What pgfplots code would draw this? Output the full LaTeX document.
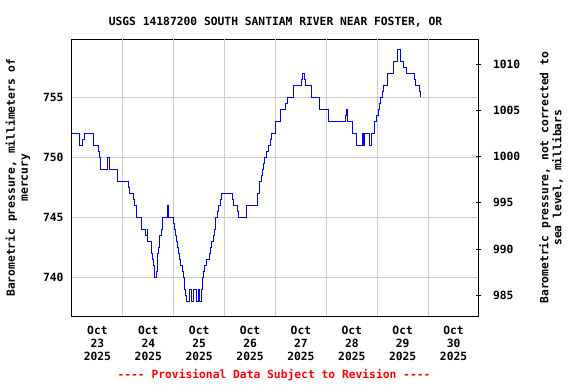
\documentclass[border=0pt]{standalone}
\usepackage{fontspec}
\setmonofont{DejaVu Sans Mono}[BoldFont={DejaVu Sans Mono Bold}]
\usepackage{pgfplots}
\usepackage{pgfplotstable}
\pgfplotsset{compat=1.18}
\newcommand{\uf}{\ttfamily\bfseries\fontsize{11.3}{13}\selectfont}
\pgfplotstableread{
x y
0 752
0.157 751
0.210 751.5
0.236 752
0.418 751
0.530 750.5
0.550 750
0.570 749
0.694 750
0.733 749
0.898 748
1.114 747.5
1.139 747
1.204 746.5
1.224 746
1.271 745
1.369 744
1.454 743.5
1.479 744
1.493 743
1.558 742
1.585 741.5
1.597 741
1.617 740
1.664 740.5
1.684 742
1.703 742.5
1.715 743
1.729 743.5
1.754 744
1.774 745
1.872 745.5
1.886 746
1.900 745
1.990 744.5
2.010 744
2.029 743.5
2.049 743
2.069 742.5
2.088 742
2.108 741.5
2.141 741
2.167 740.5
2.187 740
2.206 739
2.226 738.5
2.253 738
2.318 739
2.352 738
2.397 739
2.456 738
2.481 739
2.509 738
2.548 739
2.574 740
2.593 740.5
2.613 741
2.652 741.5
2.697 742
2.725 742.5
2.750 743
2.776 743.5
2.804 744
2.829 745
2.862 745.5
2.888 746
2.914 746.5
2.941 747
3.149 746.5
3.169 746
3.248 745.5
3.267 745
3.432 746
3.640 747
3.694 748
3.719 748.5
3.739 749
3.772 749.5
3.792 750
3.825 750.5
3.870 751
3.896 751.5
3.916 752
4.008 753
4.100 754
4.204 754.5
4.230 755
4.348 756
4.519 756.5
4.532 757
4.572 756.5
4.583 756
4.709 755
4.859 754
5.035 753
5.383 753.5
5.397 754
5.417 753
5.515 752
5.593 751
5.703 752
5.737 751
5.756 752
5.855 751
5.880 752
5.953 753
5.986 753.5
6.018 754
6.051 754.5
6.071 755
6.096 755.5
6.116 756
6.194 757
6.312 758
6.391 759
6.464 758
6.523 757.5
6.576 757
6.725 756.5
6.752 756
6.823 755.5
6.851 755
}\baro
\begin{document}
\begin{tikzpicture}[x=1pt,y=1pt]
\useasboundingbox (0,0) rectangle (576,384);
\begin{axis}[at={(72pt,68pt)}, anchor=south west, scale only axis,
  width=407pt, height=276.7pt,
  xmin=0, xmax=8, ymin=736.78, ymax=759.83,
  axis line style={line width=1pt},
  xtick={0.5,1.5,...,7.5},
  xticklabels={{Oct\\23\\2025},{Oct\\24\\2025},{Oct\\25\\2025},{Oct\\26\\2025},{Oct\\27\\2025},{Oct\\28\\2025},{Oct\\29\\2025},{Oct\\30\\2025}},
  xticklabel style={align=center, font=\uf, yshift=-7pt},
  extra x ticks={1,2,...,7},
  extra x tick labels={},
  extra x tick style={grid=major, major grid style={draw=black!20, line width=1pt}},
  ytick={740,745,750,755},
  ymajorgrids,
  grid style={draw=black!20, line width=1pt},
  major tick length=0pt,
  yticklabel style={font=\uf, xshift=-5pt},
  /pgf/number format/assume math mode=true,
  ylabel={Barometric pressure, millimeters of\\mercury},
  ylabel style={align=center, font=\uf, yshift=6pt},
  clip=true,
]
\addplot[const plot, blue, line width=1pt] table[x=x,y=y] {\baro};
\end{axis}
\begin{axis}[at={(72pt,68pt)}, anchor=south west, scale only axis,
  width=407pt, height=276.7pt,
  xmin=0, xmax=8, ymin=982.76, ymax=1012.67,
  axis x line=none, axis y line*=right,
  axis line style={line width=1pt},
  ytick={985,990,...,1010},
  major tick length=5pt, tick align=center,
  tick style={line width=1pt, black},
  yticklabel style={font=\uf, xshift=8pt},
  /pgf/number format/assume math mode=true,
  /pgf/number format/1000 sep={},
  ylabel={Barometric pressure, not corrected to\\sea level, millibars},
  ylabel style={align=center, font=\uf, yshift=-12pt},
]
\addplot[draw=none] coordinates {(0,1000)};
\end{axis}
\node[font=\uf] at (275.5,362) {USGS 14187200 SOUTH SANTIAM RIVER NEAR FOSTER, OR};
\node[font=\uf, text=red] at (274,9.3) {---- Provisional Data Subject to Revision ----};
\end{tikzpicture}
\end{document}
